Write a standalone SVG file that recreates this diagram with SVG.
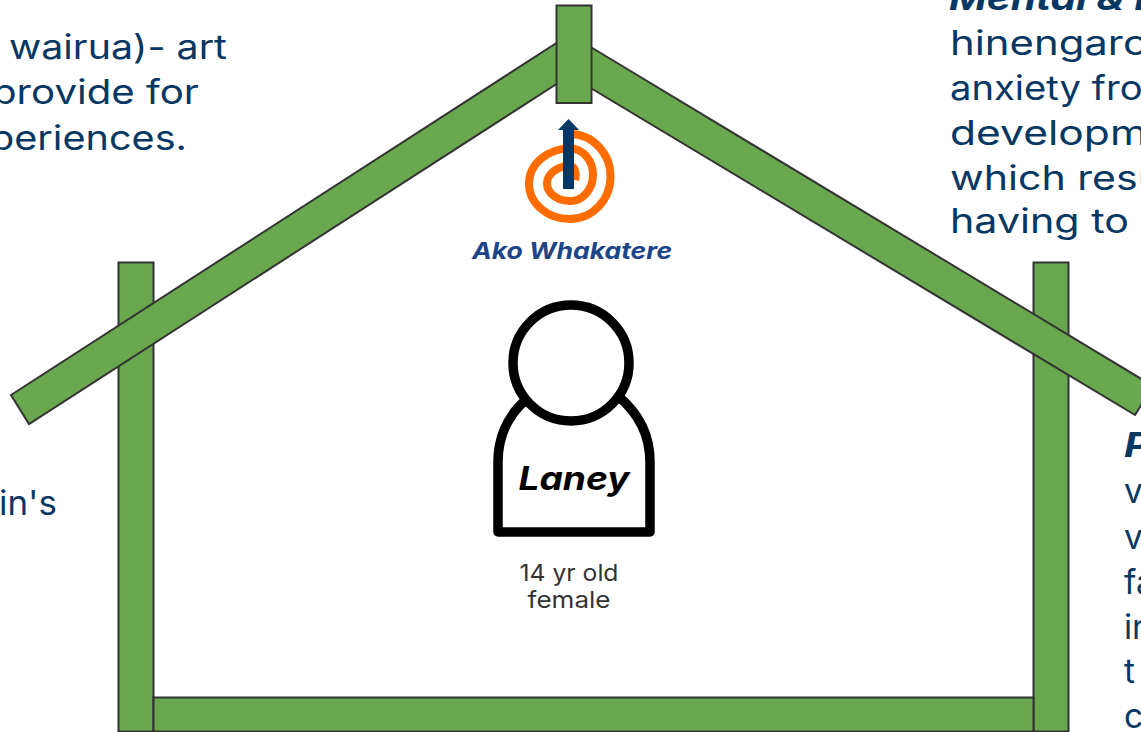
<svg xmlns="http://www.w3.org/2000/svg" width="1141" height="732" viewBox="0 0 1141 732">
<style>
.g{fill:#6aa84f;stroke:#333;stroke-width:2}
.t{font-family:"Inter","Liberation Sans",sans-serif;font-size:33.5px;fill:#073763}
.b{font-weight:700;font-style:italic}
.k{fill:none;stroke:#000;stroke-width:9.5;stroke-linejoin:round}
</style>
<rect width="1141" height="732" fill="#fff"/>
<g id="house">
<rect class="g" x="118.500" y="262.500" width="35" height="469"/>
<rect class="g" x="1033.500" y="262.500" width="35" height="469"/>
<rect class="g" x="153.500" y="697.500" width="880" height="34"/>
<polygon class="g" points="11,395 558,42 558,83 29,424"/>
<polygon class="g" points="589,46 1153,386 1135,415 589,87"/>
<rect class="g" x="556.500" y="5.500" width="35" height="97.500"/>
</g>
<g id="logo">
<path d="M570 134A40.500 42.500 0 0 1 570 219A41 35.250 0 0 1 570 148.500A23 26.250 0 0 1 570 201A23 17.500 0 0 1 570 166C574 166 577 172 575 180" fill="none" stroke="#ff6d01" stroke-width="8"/>
<polygon points="563,189 574,189 574,130 579,130 568.500,119 558,130 563,130" fill="#073763"/>
<text x="572" y="258.500" text-anchor="middle" font-family="Inter,'Liberation Sans',sans-serif" font-size="23" font-weight="700" font-style="italic" fill="#1c4587" textLength="200" lengthAdjust="spacingAndGlyphs">Ako Whakatere</text>
</g>
<g id="laney">
<path class="k" d="M528 398C506 416 498 440 498 462V532H650V462C650 440 642 416 618 396"/>
<circle class="k" cx="571" cy="363" r="58"/>
<text x="574" y="490" text-anchor="middle" font-family="Inter,'Liberation Sans',sans-serif" font-size="33" font-weight="700" font-style="italic" fill="#000" textLength="111" lengthAdjust="spacingAndGlyphs">Laney</text>
<text x="569" y="581" text-anchor="middle" font-family="Inter,'Liberation Sans',sans-serif" font-size="23.500" fill="#333" textLength="99" lengthAdjust="spacingAndGlyphs">14 yr old</text>
<text x="569" y="608" text-anchor="middle" font-family="Inter,'Liberation Sans',sans-serif" font-size="23.500" fill="#333" textLength="83" lengthAdjust="spacingAndGlyphs">female</text>
</g>
<g id="text-left">
<text class="t" x="227" y="59" text-anchor="end" textLength="218" lengthAdjust="spacingAndGlyphs">wairua)- art</text>
<text class="t" x="199" y="104" text-anchor="end" textLength="207" lengthAdjust="spacingAndGlyphs">provide for</text>
<text class="t" x="187" y="150" text-anchor="end" textLength="197" lengthAdjust="spacingAndGlyphs">periences.</text>
<text class="t" x="57" y="515" text-anchor="end" textLength="58" lengthAdjust="spacingAndGlyphs">in's</text>
</g>
<g id="text-top-right">
<text class="t b" x="949" y="10" textLength="210" lengthAdjust="spacingAndGlyphs">Mental &amp; E</text>
<text class="t" x="950" y="55" textLength="198" lengthAdjust="spacingAndGlyphs">hinengaro</text>
<text class="t" x="950" y="100" textLength="226" lengthAdjust="spacingAndGlyphs">anxiety from</text>
<text class="t" x="950" y="145" textLength="222" lengthAdjust="spacingAndGlyphs">developme</text>
<text class="t" x="950" y="190" textLength="222" lengthAdjust="spacingAndGlyphs">which resul</text>
<text class="t" x="950" y="233" textLength="179" lengthAdjust="spacingAndGlyphs">having to</text>
</g>
<g id="text-right">
<text class="t b" x="1124" y="457" textLength="27" lengthAdjust="spacingAndGlyphs">P</text>
<text class="t" x="1124" y="503">v</text>
<text class="t" x="1124" y="549">v</text>
<text class="t" x="1124" y="594">fa</text>
<text class="t" x="1124" y="639">in</text>
<text class="t" x="1124" y="683">t</text>
<text class="t" x="1124" y="728">c</text>
</g>
</svg>
